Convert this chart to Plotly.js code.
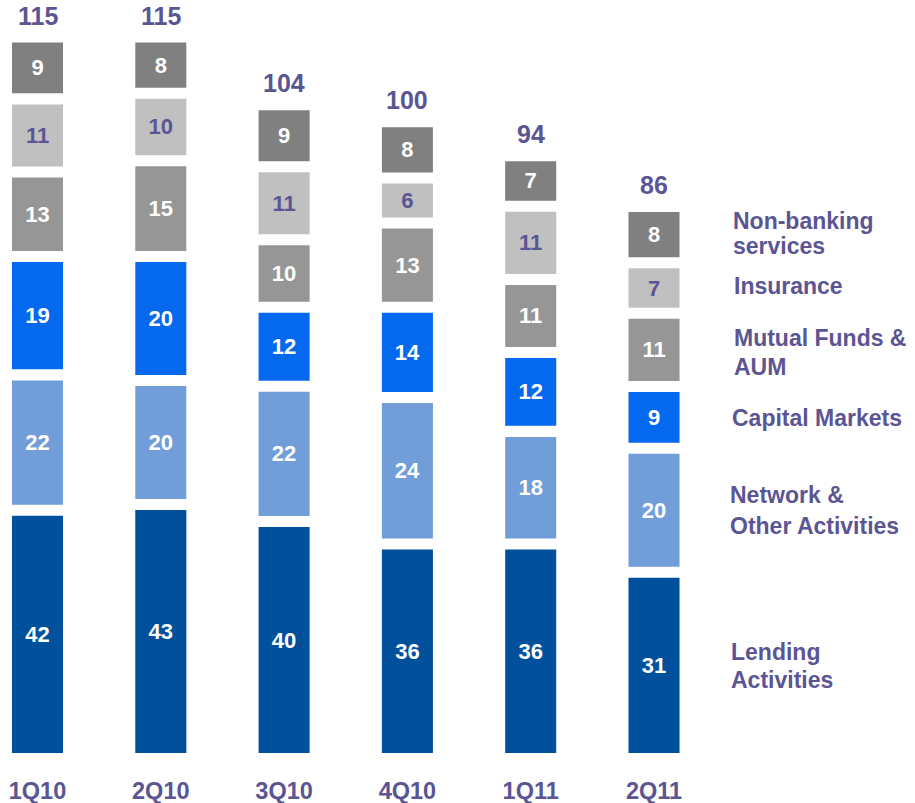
<!DOCTYPE html>
<html>
<head>
<meta charset="utf-8">
<script src="https://cdn.plot.ly/plotly-3.0.1.min.js"></script>
<style>
html, body { margin: 0; padding: 0; background: #ffffff; }
#chart { width: 915px; height: 803px; }
</style>
</head>
<body>
<div id="chart"></div>
<script>
// ---- data ----
const quarters = ["1Q10", "2Q10", "3Q10", "4Q10", "1Q11", "2Q11"];
const lending = [42, 43, 40, 36, 36, 31];
const network = [22, 20, 22, 24, 18, 20];
const capitalMarkets = [19, 20, 12, 14, 12, 9];
const mutualFunds = [13, 15, 10, 13, 11, 11];
const insurance = [11, 10, 11, 6, 11, 7];
const nonBanking = [9, 8, 9, 8, 7, 8];
const totals = [115, 115, 104, 100, 94, 86];
const seriesNames = ["Lending Activities", "Network & Other Activities", "Capital Markets", "Mutual Funds & AUM", "Insurance", "Non-banking services"];

// ---- styles ----
const FONT = '"Liberation Sans", Arial, sans-serif';
const PURPLE = '#5B5594';
const colors = ['#00509C', '#719DD9', '#0569F0', '#969696', '#C0C0C0', '#808080'];
const textColors = ['#ffffff', '#ffffff', '#ffffff', '#ffffff', PURPLE, '#ffffff'];
const GAP = 1.95;          // white gap between segments (value units)
const PX_PER_UNIT = 5.65;  // vertical scale
const PLOT_H = 753;

const series = [lending, network, capitalMarkets, mutualFunds, insurance, nonBanking];

const traces = [];
const running = quarters.map(() => 0);
series.forEach((vals, i) => {
  traces.push({
    type: 'bar',
    x: quarters,
    y: vals,
    base: running.map(v => v + GAP * i),
    name: seriesNames[i],
    width: 0.414,
    marker: { color: colors[i], line: { width: 0 } },
    text: vals.map(String),
    textposition: 'inside',
    insidetextanchor: 'middle',
    constraintext: 'none',
    textangle: 0,
    insidetextfont: { family: FONT, size: 22, color: textColors[i], weight: 700 },
    hoverinfo: 'x+y+name',
    showlegend: false
  });
  vals.forEach((v, j) => { running[j] += v; });
});

const stackTops = running.map(v => v + GAP * (series.length - 1));

const annotations = [];
// totals above bars
quarters.forEach((q, j) => {
  annotations.push({
    x: q, y: stackTops[j], xref: 'x', yref: 'y',
    text: String(totals[j]), showarrow: false,
    yanchor: 'middle', yshift: 27,
    font: { family: FONT, size: 25, color: PURPLE, weight: 700 }
  });
});

// legend labels on the right (pixel y centres of each text line)
const legendLines = [
  ["Non-banking", 221], ["services", 246],
  ["Insurance", 286],
  ["Mutual Funds &", 338], ["AUM", 367],
  ["Capital Markets", 418],
  ["Network &", 495], ["Other Activities", 526],
  ["Lending", 652], ["Activities", 680]
];
const legendX = [732, 732, 733, 733, 733, 731, 729, 729, 730, 730];
legendLines.forEach((ln, k) => {
  annotations.push({
    x: legendX[k] / 915, xref: 'paper', xanchor: 'left',
    y: (PLOT_H - ln[1]) / PLOT_H, yref: 'paper', yanchor: 'middle',
    text: ln[0], showarrow: false, align: 'left', borderpad: 0,
    font: { family: FONT, size: 23, color: PURPLE, weight: 700 }
  });
});

const pxPerCat = 123.3;
const x0 = -37.5 / pxPerCat;

const layout = {
  width: 915, height: 803,
  margin: { l: 0, r: 0, t: 0, b: 50, pad: 0 },
  paper_bgcolor: '#ffffff',
  plot_bgcolor: '#ffffff',
  barmode: 'overlay',
  showlegend: false,
  xaxis: {
    type: 'category',
    range: [x0, x0 + 915 / pxPerCat],
    showgrid: false, zeroline: false, showline: false, ticks: '',
    ticklabelstandoff: 21,
    tickfont: { family: FONT, size: 23.5, color: PURPLE, weight: 700 },
    fixedrange: true
  },
  yaxis: {
    range: [0, PLOT_H / PX_PER_UNIT],
    showgrid: false, zeroline: false, showline: false, showticklabels: false, ticks: '',
    fixedrange: true
  },
  annotations: annotations
};

Plotly.newPlot('chart', traces, layout, { displayModeBar: false, staticPlot: true });
</script>
</body>
</html>
